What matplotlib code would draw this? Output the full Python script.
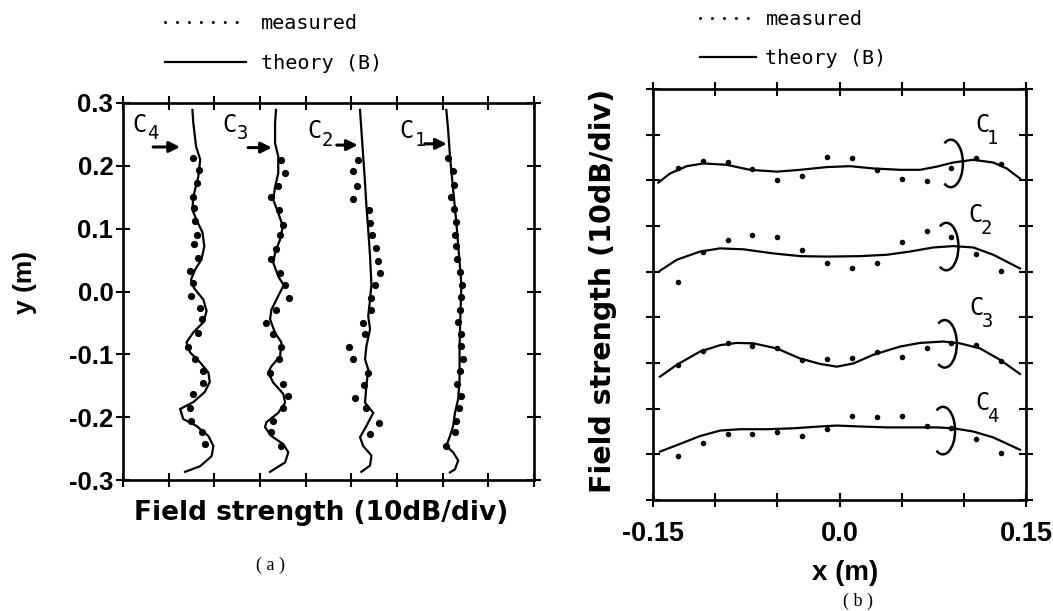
import numpy as np
import matplotlib
matplotlib.use('Agg')
import matplotlib.pyplot as plt
from matplotlib.patches import Arc
from matplotlib.lines import Line2D

plt.rcParams['axes.unicode_minus'] = False

# ---------------- panel (a): field strength (div) vs y (m) ----------------
a_c4_th_x = [1.52, 1.54, 1.60, 1.69, 1.65, 1.54, 1.52, 1.61, 1.74, 1.78, 1.72, 1.58, 1.49, 1.55, 1.76, 1.83, 1.76,
             1.54, 1.39, 1.47, 1.69, 1.87, 1.90, 1.79, 1.54, 1.25, 1.32, 1.61, 1.87, 1.98, 1.94, 1.69, 1.36]
a_c4_th_y = [0.289, 0.268, 0.231, 0.210, 0.183, 0.151, 0.130, 0.114, 0.094, 0.072, 0.051, 0.035, 0.019, 0.006,
             -0.013, -0.031, -0.049, -0.065, -0.081, -0.097, -0.113, -0.129, -0.144, -0.160, -0.176, -0.187,
             -0.203, -0.214, -0.230, -0.246, -0.262, -0.278, -0.287]
a_c4_me_x = [1.54, 1.67, 1.63, 1.54, 1.55, 1.58, 1.61, 1.56, 1.65, 1.47, 1.53, 1.50, 1.69, 1.72, 1.65, 1.43,
             1.58, 1.76, 1.76, 1.54, 1.47, 1.50, 1.72, 1.79]
a_c4_me_y = [0.212, 0.194, 0.173, 0.151, 0.133, 0.112, 0.090, 0.075, 0.053, 0.032, 0.014, -0.007, -0.026,
             -0.044, -0.066, -0.089, -0.108, -0.127, -0.145, -0.163, -0.185, -0.206, -0.224, -0.243]

a_c3_th_x = [3.35, 3.33, 3.33, 3.40, 3.40, 3.33, 3.29, 3.40, 3.50, 3.44, 3.33, 3.29, 3.40, 3.52, 3.40, 3.25, 3.22,
             3.33, 3.47, 3.44, 3.25, 3.18, 3.29, 3.51, 3.55, 3.40, 3.14, 3.11, 3.25, 3.51, 3.62, 3.55, 3.22]
a_c3_th_y = [0.289, 0.268, 0.236, 0.215, 0.188, 0.167, 0.146, 0.125, 0.104, 0.083, 0.061, 0.046, 0.024, 0.010,
             -0.007, -0.029, -0.044, -0.066, -0.081, -0.103, -0.119, -0.129, -0.145, -0.163, -0.177, -0.193,
             -0.208, -0.216, -0.230, -0.243, -0.256, -0.272, -0.287]
a_c3_me_x = [3.47, 3.55, 3.39, 3.25, 3.42, 3.50, 3.44, 3.36, 3.25, 3.44, 3.55, 3.64, 3.36, 3.13, 3.28, 3.47,
             3.41, 3.22, 3.50, 3.62, 3.50, 3.28, 3.23, 3.47]
a_c3_me_y = [0.210, 0.189, 0.168, 0.150, 0.130, 0.106, 0.090, 0.067, 0.051, 0.030, 0.011, -0.010, -0.030,
             -0.050, -0.068, -0.088, -0.107, -0.129, -0.148, -0.166, -0.185, -0.206, -0.224, -0.246]

a_c2_th_x = [5.19, 5.22, 5.26, 5.30, 5.33, 5.37, 5.41, 5.44, 5.41, 5.37, 5.41, 5.33, 5.30, 5.37, 5.33, 5.30,
             5.48, 5.33, 5.19, 5.26, 5.44, 5.41, 5.22]
a_c2_th_y = [0.289, 0.257, 0.215, 0.173, 0.136, 0.098, 0.056, 0.011, -0.013, -0.039, -0.060, -0.087, -0.108,
             -0.124, -0.150, -0.177, -0.193, -0.214, -0.232, -0.246, -0.261, -0.277, -0.287]
a_c2_me_x = [5.15, 5.04, 5.13, 5.03, 5.39, 5.41, 5.46, 5.54, 5.59, 5.62, 5.51, 5.44, 5.44, 5.26, 5.30, 4.95,
             5.03, 5.37, 5.27, 5.08, 5.32, 5.61, 5.41]
a_c2_me_y = [0.210, 0.191, 0.168, 0.147, 0.130, 0.109, 0.090, 0.069, 0.048, 0.030, 0.010, -0.010, -0.029,
             -0.050, -0.068, -0.089, -0.108, -0.129, -0.149, -0.169, -0.186, -0.210, -0.227]

a_c1_th_x = [7.08, 7.12, 7.16, 7.23, 7.30, 7.36, 7.41, 7.39, 7.37, 7.37, 7.34, 7.27, 7.23, 7.16, 7.08, 7.23,
             7.34, 7.27, 7.16]
a_c1_th_y = [0.289, 0.257, 0.215, 0.162, 0.109, 0.056, 0.011, -0.034, -0.087, -0.140, -0.171, -0.193, -0.214,
             -0.230, -0.246, -0.256, -0.269, -0.283, -0.288]
a_c1_me_x = [7.12, 7.23, 7.24, 7.18, 7.24, 7.29, 7.27, 7.30, 7.32, 7.37, 7.43, 7.41, 7.39, 7.34, 7.41, 7.41,
             7.45, 7.37, 7.32, 7.41, 7.36, 7.29, 7.27, 7.08]
a_c1_me_y = [0.212, 0.191, 0.170, 0.150, 0.131, 0.110, 0.090, 0.072, 0.051, 0.031, 0.011, -0.008, -0.029,
             -0.049, -0.067, -0.087, -0.107, -0.127, -0.148, -0.166, -0.185, -0.206, -0.224, -0.246]

a_yticks = [-0.3, -0.2, -0.1, 0.0, 0.1, 0.2, 0.3]
a_yticklabels = ['-0.3', '-0.2', '-0.1', '0.0', '0.1', '0.2', '0.3']
a_xticks = [0, 1, 2, 3, 4, 5, 6, 7, 8, 9]
a_labels = ['4', '3', '2', '1']

# ---------------- panel (b): x (m) vs field strength (div) ----------------
b_me_x = [-0.13, -0.11, -0.09, -0.07, -0.05, -0.03, -0.01, 0.01, 0.03, 0.05, 0.07, 0.09, 0.11, 0.13]

b_c1_th_x = [-0.1457, -0.1363, -0.1229, -0.1095, -0.0907, -0.0720, -0.0505, -0.0318, -0.0103, 0.0084, 0.0272,
             0.0491, 0.0648, 0.0782, 0.0915, 0.1076, 0.1237, 0.1345, 0.1452]
b_c1_th_y = [6.95, 7.15, 7.31, 7.37, 7.34, 7.23, 7.19, 7.23, 7.29, 7.31, 7.26, 7.23, 7.23, 7.30, 7.39, 7.45,
             7.39, 7.26, 7.04]
b_c1_me_y = [7.28, 7.43, 7.41, 7.24, 7.01, 7.10, 7.52, 7.48, 7.23, 7.04, 6.99, 7.26, 7.48, 7.36]

b_c2_th_x = [-0.1444, -0.1309, -0.1122, -0.0961, -0.0774, -0.0532, -0.0315, -0.0103, 0.0165, 0.0380, 0.0565,
             0.0755, 0.0915, 0.1076, 0.1237, 0.1452]
b_c2_th_y = [5.02, 5.26, 5.44, 5.51, 5.49, 5.40, 5.34, 5.33, 5.34, 5.37, 5.44, 5.53, 5.56, 5.53, 5.37, 5.07]
b_c2_me_y = [4.78, 5.42, 5.69, 5.80, 5.77, 5.47, 5.20, 5.09, 5.18, 5.66, 5.90, 5.77, 5.39, 5.02]

b_c3_th_x = [-0.1444, -0.1309, -0.1122, -0.0961, -0.0827, -0.0693, -0.0505, -0.0318, -0.0157, -0.0022, 0.0111,
             0.0272, 0.0487, 0.0648, 0.0835, 0.0969, 0.1130, 0.1291, 0.1452]
b_c3_th_y = [2.70, 2.96, 3.25, 3.39, 3.44, 3.43, 3.32, 3.10, 2.98, 2.92, 2.99, 3.18, 3.36, 3.44, 3.47, 3.43,
             3.32, 3.07, 2.76]
b_c3_me_y = [2.96, 3.27, 3.43, 3.37, 3.32, 3.07, 3.08, 3.10, 3.23, 3.14, 3.32, 3.44, 3.39, 3.04]

b_c4_th_x = [-0.1444, -0.1309, -0.1122, -0.0961, -0.0800, -0.0586, -0.0372, -0.0157, -0.0022, 0.0165, 0.0380,
             0.0594, 0.0782, 0.0915, 0.1076, 0.1237, 0.1452]
b_c4_th_y = [1.06, 1.20, 1.40, 1.52, 1.55, 1.55, 1.57, 1.61, 1.63, 1.61, 1.59, 1.59, 1.59, 1.57, 1.50, 1.37, 1.10]
b_c4_me_y = [0.97, 1.24, 1.45, 1.45, 1.48, 1.40, 1.55, 1.84, 1.81, 1.84, 1.62, 1.57, 1.33, 1.02]

b_xticks = [-0.15, -0.10, -0.05, 0.0, 0.05, 0.10, 0.15]
b_xticklabels = ['-0.15', '', '', '0.0', '', '', '0.15']
b_yticks = [0, 1, 2, 3, 4, 5, 6, 7, 8, 9]
b_labels = ['1', '2', '3', '4']

legend_labels = ['measured', 'theory (B)']

# ---------------- figure ----------------
W, H = 1053, 611
fig = plt.figure(figsize=(W / 100, H / 100), dpi=100)
fig.patch.set_facecolor('white')

axa = fig.add_axes([123 / W, 1 - 480 / H, (534 - 123) / W, (480 - 103) / H])
axb = fig.add_axes([653 / W, 1 - 500 / H, (1026 - 653) / W, (500 - 89) / H])

TICKFONT = 'Liberation Sans'
LABFONT = 'DejaVu Sans'
MONO = 'DejaVu Sans Mono'

for ax in (axa, axb):
    for sp in ax.spines.values():
        sp.set_linewidth(1.9)
    ax.tick_params(direction='inout', length=10, width=1.5, top=True, right=True,
                   labeltop=False, labelright=False)

# panel (a)
lw_th = 1.6
ms_a = 5.2
for tx, ty, mx, my in [(a_c4_th_x, a_c4_th_y, a_c4_me_x, a_c4_me_y),
                       (a_c3_th_x, a_c3_th_y, a_c3_me_x, a_c3_me_y),
                       (a_c2_th_x, a_c2_th_y, a_c2_me_x, a_c2_me_y),
                       (a_c1_th_x, a_c1_th_y, a_c1_me_x, a_c1_me_y)]:
    axa.plot(tx, ty, color='k', lw=lw_th, solid_joinstyle='round')
    axa.plot(mx, my, 'o', color='k', ms=ms_a, mec='none')

axa.set_xlim(0, 9)
axa.set_ylim(-0.3, 0.3)
axa.set_xticks(a_xticks)
axa.set_xticklabels([''] * len(a_xticks))
axa.set_yticks(a_yticks)
axa.set_yticklabels(a_yticklabels, fontfamily=TICKFONT, fontweight='bold', fontsize=18.5)
axa.tick_params(axis='y', pad=2)

# curve labels and arrows in (a)
lab_pos_a = [(0.20, 0.254), (2.17, 0.254), (4.03, 0.244), (6.06, 0.244)]
arrow_a = [((0.66, 0.230), (1.25, 0.230)), ((2.74, 0.229), (3.26, 0.229)),
           ((4.68, 0.233), (5.14, 0.233)), ((6.61, 0.235), (7.09, 0.235))]
for lab, (lx, ly), (t0, t1) in zip(a_labels, lab_pos_a, arrow_a):
    axa.text(lx, ly, 'C', fontfamily=MONO, fontsize=17, va='baseline', ha='left')
    axa.text(lx + 0.33, ly - 0.012, lab, fontfamily=MONO, fontsize=13.5, va='baseline', ha='left')
    axa.annotate('', xy=t1, xytext=t0,
                 arrowprops=dict(arrowstyle='-|>', lw=2.2, color='k', mutation_scale=16,
                                 shrinkA=0, shrinkB=0))

axa.set_xlabel('Field strength (10dB/div)', fontfamily=LABFONT, fontweight='bold', fontsize=19,
               va='center')
axa.xaxis.set_label_coords(0.482, -0.088)
axa.set_ylabel('y (m)', fontfamily=TICKFONT, fontweight='bold', fontsize=19, va='center')
axa.yaxis.set_label_coords(-0.238, 0.525)

# panel (b)
ms_b = 4.0
for tx, ty, my in [(b_c1_th_x, b_c1_th_y, b_c1_me_y),
                   (b_c2_th_x, b_c2_th_y, b_c2_me_y),
                   (b_c3_th_x, b_c3_th_y, b_c3_me_y),
                   (b_c4_th_x, b_c4_th_y, b_c4_me_y)]:
    axb.plot(tx, ty, color='k', lw=lw_th, solid_joinstyle='round')
    axb.plot(b_me_x, my, 'o', color='k', ms=ms_b, mec='none')

axb.set_xlim(-0.15, 0.15)
axb.set_ylim(0, 9)
axb.set_xticks(b_xticks)
axb.set_xticklabels(b_xticklabels, fontfamily=TICKFONT, fontweight='bold', fontsize=19.5)
axb.set_yticks(b_yticks)
axb.set_yticklabels([''] * len(b_yticks))
axb.tick_params(axis='x', pad=10)

# ring marks around each curve: open on the left side
loops_b = [(0.0895, 7.37), (0.0859, 5.55), (0.0846, 3.42), (0.0832, 1.52)]
lab_pos_b = [(0.109, 8.06), (0.1036, 6.09), (0.1044, 4.05), (0.109, 1.97)]
ring_w, ring_h, ring_open = 0.0195, 1.04, 122.0
phi = np.deg2rad(ring_open)
ring_theta = np.degrees(np.arctan2(ring_h * np.sin(phi), ring_w * np.cos(phi)))
for lab, (cx, cy), (lx, ly) in zip(b_labels, loops_b, lab_pos_b):
    axb.add_patch(Arc((cx, cy), ring_w, ring_h, theta1=-ring_theta, theta2=ring_theta,
                      lw=1.8, color='k'))
    axb.text(lx, ly, 'C', fontfamily=MONO, fontsize=17, va='baseline', ha='left')
    axb.text(lx + 0.0098, ly - 0.26, lab, fontfamily=MONO, fontsize=13.5, va='baseline', ha='left')

axb.set_xlabel('x (m)', fontfamily=TICKFONT, fontweight='bold', fontsize=20, va='center')
axb.xaxis.set_label_coords(0.515, -0.178)
axb.set_ylabel('Field strength (10dB/div)', fontfamily=LABFONT, fontweight='bold', fontsize=20.5,
               va='center')
axb.yaxis.set_label_coords(-0.134, 0.508)

# legends
def make_handles():
    return [Line2D([], [], color='k', lw=2.2, linestyle=(0, (0.01, 3.9)), dash_capstyle='round'),
            Line2D([], [], color='k', lw=1.6)]

fig.legend(make_handles(), legend_labels, loc='upper left', bbox_to_anchor=(165 / W, 1 - 14 / H),
           frameon=False, prop=dict(family=MONO, size=14.5), handlelength=4.0, handletextpad=0.75,
           labelspacing=1.05, borderpad=0, borderaxespad=0)
fig.legend(make_handles(), legend_labels, loc='upper left', bbox_to_anchor=(700 / W, 1 - 10 / H),
           frameon=False, prop=dict(family=MONO, size=14.5), handlelength=2.8, handletextpad=0.45,
           labelspacing=1.0, borderpad=0, borderaxespad=0)

# captions
fig.text(270 / W, 1 - 565 / H, '( a )', fontfamily='Liberation Serif', fontsize=13, ha='center', va='center')
fig.text(858 / W, 1 - 601 / H, '( b )', fontfamily='Liberation Serif', fontsize=13, ha='center', va='center')

fig.savefig('out.png', dpi=100, facecolor='white')
